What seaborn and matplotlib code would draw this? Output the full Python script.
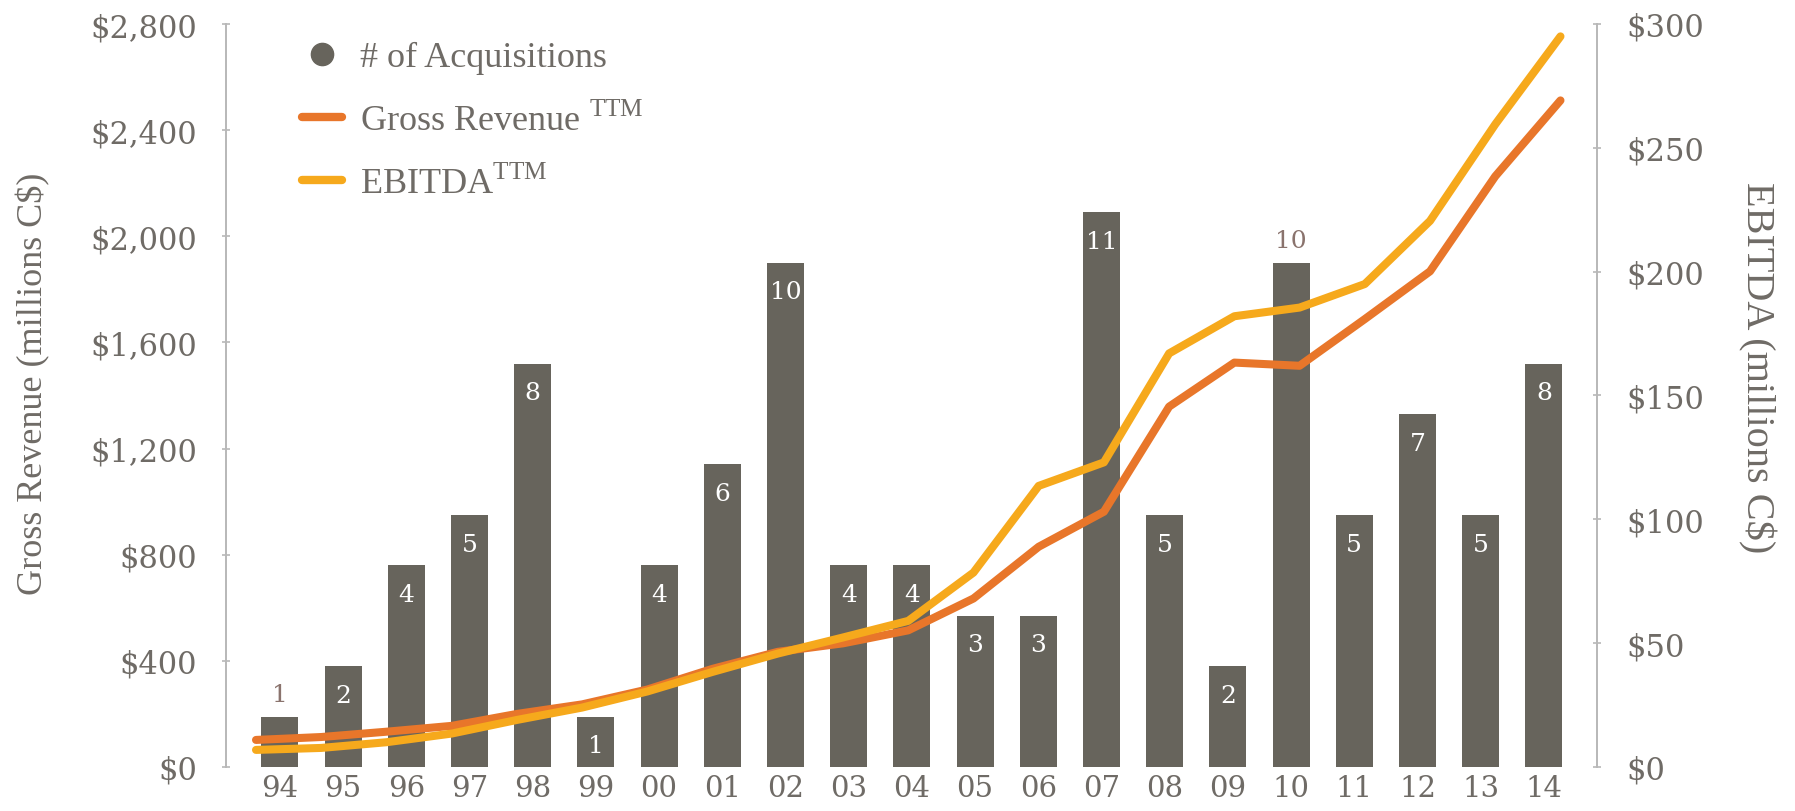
import numpy as np
import matplotlib
matplotlib.use("Agg")
import matplotlib.pyplot as plt
from matplotlib.lines import Line2D
import seaborn as sns

# ---- data -------------------------------------------------------------
years = ["94", "95", "96", "97", "98", "99", "00", "01", "02", "03", "04",
         "05", "06", "07", "08", "09", "10", "11", "12", "13", "14"]
acquisitions = [1, 2, 4, 5, 8, 1, 4, 6, 10, 4, 4, 3, 3, 11, 5, 2, 10, 5, 7, 5, 8]
gross_revenue = [102, 113, 133, 155, 200, 236, 292, 370, 434, 466, 515,
                 635, 830, 962, 1358, 1524, 1512, 1688, 1868, 2226, 2512]
ebitda = [6.9, 7.7, 10.0, 13.5, 19.0, 24.0, 30.5, 38.4, 45.8, 52.3, 59.0,
          78.5, 113.5, 123.0, 167.0, 182.0, 185.5, 195.0, 220.5, 259.5, 295.0]
labels_above = ["94", "10"]          # counts printed above their bar

left_ticks = [0, 400, 800, 1200, 1600, 2000, 2400, 2800]
right_ticks = [0, 50, 100, 150, 200, 250, 300]

# ---- style ------------------------------------------------------------
BAR = "#67645c"
ORANGE = "#e8762a"
YELLOW = "#f6a91c"
TEXT = "#6f6b66"
SPINE = "#b8b8b8"
ABOVE = "#8a736d"

sns.set_theme(style="white")
plt.rcParams["font.family"] = ["DejaVu Serif"]
plt.rcParams["mathtext.fontset"] = "custom"
plt.rcParams["mathtext.rm"] = "Liberation Serif"

W, H = 1795, 812
fig = plt.figure(figsize=(W / 100, H / 100), dpi=100)
fig.patch.set_facecolor("white")

x0, x1, y_top, y_bot = 226, 1597, 25, 768
rect = [x0 / W, 1 - y_bot / H, (x1 - x0) / W, (y_bot - y_top) / H]

# bar layer (counts on a hidden scale)
ax_bar = fig.add_axes(rect, zorder=1)
sns.barplot(x=years, y=acquisitions, order=years, color=BAR, saturation=1,
            width=0.585, ax=ax_bar, edgecolor="none")
ax_bar.set_xlim(-0.853, 20.84)
ax_bar.set_ylim(0, 2800 / 190)
ax_bar.set_yticks([])
ax_bar.set_xlabel("")
ax_bar.set_ylabel("")
for s in ax_bar.spines.values():
    s.set_visible(False)
ax_bar.tick_params(axis="x", length=0, pad=5, labelsize=21, labelcolor=TEXT)

for i, (yr, n) in enumerate(zip(years, acquisitions)):
    if yr in labels_above:
        ax_bar.annotate(str(n), (i, n), xytext=(0, 16), textcoords="offset points",
                        ha="center", va="center", fontsize=18, color=ABOVE)
    else:
        ax_bar.annotate(str(n), (i, n), xytext=(0, -21), textcoords="offset points",
                        ha="center", va="center", fontsize=18, color="white")

# gross revenue (left scale)
ax_l = fig.add_axes(rect, zorder=2)
ax_l.patch.set_visible(False)
xs = np.arange(len(years))
sns.lineplot(x=xs, y=gross_revenue, ax=ax_l, color=ORANGE, lw=5.8,
             solid_capstyle="round", legend=False)
ax_l.set_xlim(-0.46, 20.56)
ax_l.set_ylim(0, 2800)
ax_l.set_xticks([])
ax_l.set_yticks(left_ticks)
ax_l.set_yticklabels([f"${v:,}" for v in left_ticks])
for name, s in ax_l.spines.items():
    s.set_visible(name == "left")
ax_l.spines["left"].set_color(SPINE)
ax_l.spines["left"].set_linewidth(1.4)
ax_l.tick_params(axis="y", direction="inout", length=6, width=1.2, color=SPINE,
                 pad=18, labelsize=22, labelcolor=TEXT, left=True)

# EBITDA (right scale)
ax_r = ax_l.twinx()
ax_r.set_zorder(3)
ax_r.patch.set_visible(False)
sns.lineplot(x=xs, y=ebitda, ax=ax_r, color=YELLOW, lw=5.8,
             solid_capstyle="round", legend=False)
ax_r.set_xlim(-0.46, 20.56)
ax_r.set_ylim(0, 300)
ax_r.set_yticks(right_ticks)
ax_r.set_yticklabels([f"${v}" for v in right_ticks])
ax_r.set_ylabel("")
for name, s in ax_r.spines.items():
    s.set_visible(name == "right")
ax_r.spines["right"].set_color(SPINE)
ax_r.spines["right"].set_linewidth(1.4)
ax_r.tick_params(axis="y", direction="inout", length=6, width=1.2, color=SPINE,
                 pad=18, labelsize=22, labelcolor=TEXT, right=True)

# axis titles
fig.text(33 / W, 1 - 384 / H, "Gross Revenue (millions C$)", rotation=90,
         ha="center", va="center", fontsize=26, color=TEXT,
         family="Liberation Serif")
fig.text(1757 / W, 1 - 368 / H, "EBITDA (millions C$)", rotation=270,
         ha="center", va="center", fontsize=29, color=TEXT,
         family="Liberation Serif")

# legend
handles = [
    Line2D([], [], ls="none", marker="o", markersize=16, color=BAR),
    Line2D([], [], color=ORANGE, lw=6, solid_capstyle="round"),
    Line2D([], [], color=YELLOW, lw=6, solid_capstyle="round"),
]
names = ["# of Acquisitions", r"Gross Revenue $^{\mathrm{TTM}}$", r"EBITDA$^{\mathrm{TTM}}$"]
leg = ax_r.legend(handles, names, loc="upper left",
                  bbox_to_anchor=(302 / W, 1 - 42 / H), bbox_transform=fig.transFigure,
                  frameon=False, borderpad=0, borderaxespad=0, handlelength=1.1,
                  handletextpad=0.5, labelspacing=0.78,
                  prop={"family": "Liberation Serif", "size": 26})
for t in leg.get_texts():
    t.set_color(TEXT)

fig.savefig("out.png", dpi=100, facecolor="white")
